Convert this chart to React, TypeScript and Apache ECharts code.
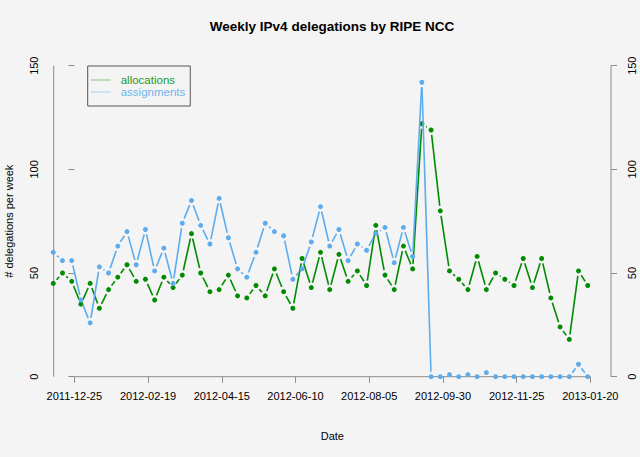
import React, { useEffect, useRef } from "react";
import * as echarts from "echarts";

// ---- data ----
const FIRST_WEEK = "2011-12-09";
const TICK_DATES = [
  "2011-12-25", "2012-02-19", "2012-04-15", "2012-06-10",
  "2012-08-05", "2012-09-30", "2012-11-25", "2013-01-20",
];
const Y_TICKS = [0, 50, 100, 150];

const allocations = [
  45, 50, 46, 35, 45, 33, 42, 48, 54, 46, 47, 37, 48, 43, 49, 69, 50, 41, 42, 49,
  39, 38, 44, 39, 52, 41, 33, 57, 43, 60, 42, 59, 46, 51, 44, 73, 49, 42, 63, 52,
  122, 119, 80, 51, 47, 42, 58, 42, 50, 47, 44, 57, 43, 57, 38, 24, 18, 51, 44,
];
const assignments = [
  60, 56, 56, 37, 26, 53, 50, 63, 70, 54, 71, 51, 62, 45, 74, 85, 73, 64, 86, 67,
  52, 48, 60, 74, 70, 68, 47, 52, 65, 82, 63, 71, 56, 64, 61, 69, 72, 55, 72, 58,
  142, 0, 0, 1, 0, 1, 0, 2, 0, 0, 0, 0, 0, 0, 0, 0, 0, 6, 0,
];

// ---- helpers ----
const DAY = 86400000;
const ORIGIN = Date.parse(TICK_DATES[0] + "T00:00:00Z");
const toDay = (s: string) => (Date.parse(s + "T00:00:00Z") - ORIGIN) / DAY;
const fromDay = (d: number) => new Date(ORIGIN + Math.round(d) * DAY).toISOString().slice(0, 10);

const tickDays = TICK_DATES.map(toDay);
const firstDay = toDay(FIRST_WEEK);
const weekDays = allocations.map((_, i) => firstDay + 7 * i);
const span = tickDays[tickDays.length - 1] - tickDays[0];
const X_MIN = tickDays[0] - 0.04 * span;
const X_MAX = tickDays[tickDays.length - 1] + 0.04 * span;
const Y_MIN = Y_TICKS[0];
const Y_MAX = Y_TICKS[Y_TICKS.length - 1];

const GREEN = "#008B00";
const BLUE = "#5CACEE";
const AXIS = "#8a8a8a";
const FONT = "'Liberation Sans', Arial, sans-serif";

function makeRenderer(values: number[], color: string) {
  return (params: any, api: any) => {
    const i = params.dataIndex;
    const p = api.coord([api.value(0), api.value(1)]);
    const children: any[] = [
      { type: "circle", shape: { cx: p[0], cy: p[1], r: 2.5 }, style: { fill: color } },
    ];
    if (i < values.length - 1) {
      const q = api.coord([weekDays[i + 1], values[i + 1]]);
      const dx = q[0] - p[0];
      const dy = q[1] - p[1];
      const len = Math.hypot(dx, dy);
      const gap = 5;
      if (len > 2 * gap) {
        const ux = dx / len;
        const uy = dy / len;
        children.push({
          type: "line",
          shape: { x1: p[0] + ux * gap, y1: p[1] + uy * gap, x2: q[0] - ux * gap, y2: q[1] - uy * gap },
          style: { stroke: color, lineWidth: 1.6 },
        });
      }
    }
    return { type: "group", children };
  };
}

export default function App() {
  const ref = useRef<HTMLDivElement>(null);
  useEffect(() => {
    if (!ref.current) return;
    const chart = echarts.init(ref.current, undefined, { renderer: "svg" });
    const axisLabelStyle = { fontFamily: FONT, fontSize: 11, color: "#000" };
    const yAxisBase = {
      type: "value",
      min: Y_MIN,
      max: Y_MAX,
      axisLine: { show: false },
      splitLine: { show: false },
      axisTick: { show: true, length: 6, lineStyle: { color: AXIS, width: 1 }, customValues: Y_TICKS },
    };
    chart.setOption({
      animation: false,
      backgroundColor: "#f4f4f4",
      title: {
        text: "Weekly IPv4 delegations by RIPE NCC",
        left: 332,
        textAlign: "center",
        top: 19,
        padding: 0,
        textStyle: { fontFamily: FONT, fontSize: 13.5, fontWeight: "bold", color: "#000" },
      },
      legend: {
        left: 87.7,
        top: 66,
        orient: "vertical",
        selectedMode: false,
        backgroundColor: "#f4f4f4",
        borderColor: "#555",
        borderWidth: 1,
        borderRadius: 0,
        padding: [8, 5, 8, 3],
        itemWidth: 20,
        itemHeight: 1,
        itemGap: 0,
        textStyle: { fontFamily: FONT, fontSize: 11.5, lineHeight: 12, padding: [0, 0, 0, 5] },
        data: [
          { name: "allocations", icon: "rect", itemStyle: { color: "#7fc97f" }, textStyle: { color: "#1e9a1e" } },
          { name: "assignments", icon: "rect", itemStyle: { color: "#a6d0f3" }, textStyle: { color: "#72b4ee" } },
        ],
      },
      grid: { left: 53.7, right: 29, top: 65.7, bottom: 80.3, containLabel: false, outerBoundsMode: "none" },
      xAxis: {
        type: "value",
        min: X_MIN,
        max: X_MAX,
        axisLine: { show: false },
        splitLine: { show: false },
        axisTick: { show: true, length: 6, lineStyle: { color: AXIS, width: 1 }, customValues: tickDays },
        axisLabel: { ...axisLabelStyle, customValues: tickDays, margin: 14, formatter: (v: number) => fromDay(v) },
        name: "Date",
        nameLocation: "middle",
        nameGap: 54,
        nameTextStyle: { fontFamily: FONT, fontSize: 11, color: "#000" },
      },
      yAxis: [
        {
          ...yAxisBase,
          position: "left",
          axisLabel: { ...axisLabelStyle, rotate: 90, margin: 14, customValues: Y_TICKS },
          name: "# delegations per week",
          nameLocation: "middle",
          nameRotate: 90,
          nameGap: 39,
          nameTextStyle: { fontFamily: FONT, fontSize: 11, color: "#000" },
        },
        {
          ...yAxisBase,
          position: "right",
          axisLabel: { ...axisLabelStyle, rotate: 90, margin: 15, customValues: Y_TICKS },
        },
      ],
      series: [
        {
          type: "custom",
          name: "frame",
          silent: true,
          data: [[tickDays[0], Y_MIN]],
          encode: { x: 0, y: 1 },
          renderItem: (_p: any, api: any) => {
            const a = api.coord([tickDays[0], Y_MIN]);
            const b = api.coord([tickDays[tickDays.length - 1], Y_MIN]);
            const l0 = api.coord([X_MIN, Y_MIN]);
            const l1 = api.coord([X_MIN, Y_MAX]);
            const r0 = api.coord([X_MAX, Y_MIN]);
            const r1 = api.coord([X_MAX, Y_MAX]);
            const st = { stroke: AXIS, lineWidth: 1 };
            return {
              type: "group",
              children: [
                { type: "line", shape: { x1: a[0], y1: a[1], x2: b[0], y2: b[1] }, style: st },
                { type: "line", shape: { x1: l0[0], y1: l0[1], x2: l1[0], y2: l1[1] }, style: st },
                { type: "line", shape: { x1: r0[0], y1: r0[1], x2: r1[0], y2: r1[1] }, style: st },
              ],
            };
          },
        },
        {
          type: "custom",
          name: "allocations",
          itemStyle: { color: GREEN },
          data: weekDays.map((d, i) => [d, allocations[i]]),
          encode: { x: 0, y: 1 },
          renderItem: makeRenderer(allocations, GREEN),
        },
        {
          type: "custom",
          name: "assignments",
          itemStyle: { color: BLUE },
          data: weekDays.map((d, i) => [d, assignments[i]]),
          encode: { x: 0, y: 1 },
          renderItem: makeRenderer(assignments, BLUE),
        },
      ],
    });
    return () => chart.dispose();
  }, []);
  return (
    <div
      ref={ref}
      style={{ position: "fixed", left: 0, top: 0, width: 640, height: 457, background: "#f4f4f4" }}
    />
  );
}
